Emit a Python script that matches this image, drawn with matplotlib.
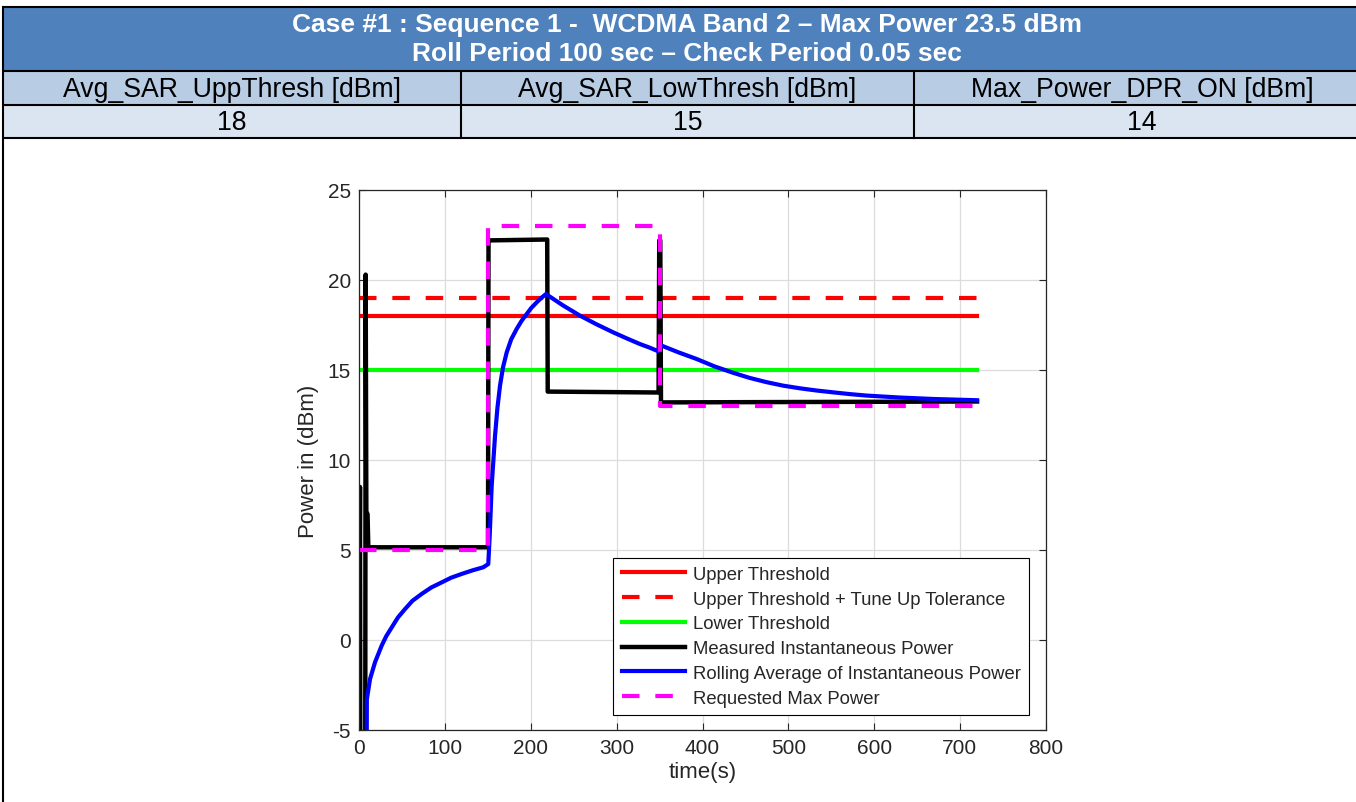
import matplotlib
matplotlib.use("Agg")
import matplotlib.pyplot as plt
from matplotlib.patches import Rectangle

plt.rcParams['font.family'] = ['Liberation Sans', 'DejaVu Sans']
plt.rcParams['axes.unicode_minus'] = False

# --- table contents ---
TITLE_LINES = ["Case #1 : Sequence 1 -  WCDMA Band 2 \u2013 Max Power 23.5 dBm",
               "Roll Period 100 sec \u2013 Check Period 0.05 sec"]
PARAM_NAMES = ["Avg_SAR_UppThresh [dBm]", "Avg_SAR_LowThresh [dBm]", "Max_Power_DPR_ON [dBm]"]
PARAM_VALUES = ["18", "15", "14"]

# --- chart data ---
T_END = 720
UPPER_THRESH = 18
UPPER_TOL = 19
LOWER_THRESH = 15

meas_t = [0, 0.4, 0.8, 1.2, 1.6, 6.9, 7.4, 8.2, 9.6, 10.5, 150.0, 150.6, 219.0, 219.6,
          348.8, 349.6, 350.8, 351.6, 720]
meas_p = [5.5, 3.9, 8.5, -9.0, -9.0, -9.0, 20.3, 7.1, 7.0, 5.15, 5.15, 22.2, 22.25, 13.8,
          13.75, 22.2, 22.2, 13.2, 13.25]

avg_t = [8.5, 8.8, 12.5, 18.3, 26.1, 31.5, 37.8, 45.0, 53.3, 62.0, 72.7, 84.0, 96.0,
         107.0, 119.3, 132.0, 144.5, 150.3,
         152.0, 154.3, 158.2, 161.0, 164.0, 167.5, 171.8, 177.0, 183.4, 189.0, 195.1,
         200.5, 206.8, 212.0, 217.6,
         237.0, 257.2, 276.0, 296.0, 312.0, 327.2, 338.0, 348.0, 350.5, 372.0, 393.2,
         414.0, 436.0, 455.0, 475.0, 494.0, 514.0, 533.0, 552.0, 572.0,
         591.0, 630.0, 669.0, 720]
avg_p = [-8.0, -3.3, -2.17, -1.24, -0.31, 0.22, 0.70, 1.25, 1.72, 2.18, 2.56, 2.92, 3.20,
         3.46, 3.67, 3.87, 4.04, 4.22,
         5.8, 8.57, 11.35, 12.9, 14.13, 15.15, 15.98, 16.70, 17.28, 17.72, 18.11,
         18.45, 18.76, 19.00, 19.22,
         18.60, 18.02, 17.55, 17.09, 16.75, 16.44, 16.25, 16.05, 16.39, 15.98, 15.61,
         15.20, 14.84, 14.56, 14.32, 14.13, 13.98, 13.86, 13.76, 13.66,
         13.58, 13.47, 13.39, 13.32]

req_t = [0, 150, 150, 351, 351, 720]
req_p = [5, 5, 23, 23, 13, 13]

XTICKS = [0, 100, 200, 300, 400, 500, 600, 700, 800]
YTICKS = [-5, 0, 5, 10, 15, 20, 25]

W, H = 1356, 803
fig = plt.figure(figsize=(W / 100, H / 100), dpi=100)

# table drawn in pixel coordinates on a full-figure axes
bg = fig.add_axes([0, 0, 1, 1])
bg.set_xlim(0, W)
bg.set_ylim(H, 0)
bg.axis('off')

tbl_left, tbl_right = 3, 1370
row_y = [8, 72, 106, 139]
col_x = [tbl_left, 461, 914, tbl_right]
bg.add_patch(Rectangle((tbl_left, row_y[0]), tbl_right - tbl_left, row_y[1] - row_y[0],
                       facecolor='#4F81BD', edgecolor='none'))
bg.add_patch(Rectangle((tbl_left, row_y[1]), tbl_right - tbl_left, row_y[2] - row_y[1],
                       facecolor='#B8CCE4', edgecolor='none'))
bg.add_patch(Rectangle((tbl_left, row_y[2]), tbl_right - tbl_left, row_y[3] - row_y[2],
                       facecolor='#DBE5F1', edgecolor='none'))
for y in row_y:
    bg.plot([tbl_left, tbl_right], [y, y], color='black', lw=1.5, solid_capstyle='butt')
bg.plot([tbl_left, tbl_left], [row_y[0], H], color='black', lw=1.5)
for x in col_x[1:3]:
    bg.plot([x, x], [row_y[1], row_y[3]], color='black', lw=1.5)

center_x = (tbl_left + tbl_right) / 2
bg.text(center_x, 25, TITLE_LINES[0], color='white', fontsize=19, fontweight='bold',
        ha='center', va='center')
bg.text(center_x, 54, TITLE_LINES[1], color='white', fontsize=19, fontweight='bold',
        ha='center', va='center')
for i in range(3):
    cx = (col_x[i] + col_x[i + 1]) / 2
    bg.text(cx, 90, PARAM_NAMES[i], fontsize=19.2, ha='center', va='center', color='black')
    bg.text(cx, 123, PARAM_VALUES[i], fontsize=19.2, ha='center', va='center', color='black')

# --- chart ---
ax = fig.add_axes([359.3 / W, (H - 731) / H, 686.4 / W, 540 / H])
dash = (0, (4.2, 3.8))
ax.plot([0, T_END], [UPPER_THRESH, UPPER_THRESH], color='#FF0000', lw=3, label='Upper Threshold')
ax.plot([0, T_END], [UPPER_TOL, UPPER_TOL], color='#FF0000', lw=3, linestyle=dash,
        label='Upper Threshold + Tune Up Tolerance')
ax.plot([0, T_END], [LOWER_THRESH, LOWER_THRESH], color='#00FF00', lw=3, label='Lower Threshold')
ax.plot(meas_t, meas_p, color='black', lw=3.2, label='Measured Instantaneous Power')
ax.plot(avg_t, avg_p, color='#0000FF', lw=3, label='Rolling Average of Instantaneous Power')
ax.plot(req_t, req_p, color='#FF00FF', lw=3, linestyle=dash, label='Requested Max Power')

ax.set_xlim(0, 800)
ax.set_ylim(-5, 25)
ax.set_xticks(XTICKS)
ax.set_yticks(YTICKS)
ax.tick_params(direction='in', top=True, right=True, labelsize=15, colors='#262626',
               length=5, width=0.8, pad=6)
for s in ax.spines.values():
    s.set_color('#262626')
    s.set_linewidth(0.9)
ax.grid(True, color='#dcdcdc', lw=0.9)
ax.set_axisbelow(True)
ax.set_xlabel('time(s)', fontsize=16, color='#262626', labelpad=3)
ax.set_ylabel('Power in (dBm)', fontsize=16, color='#262626', labelpad=6)

leg = ax.legend(loc='lower right', bbox_to_anchor=(1 - 16.7 / 686.4, 15 / 540),
                borderaxespad=0, fontsize=13.3, frameon=True, fancybox=False,
                framealpha=1, edgecolor='black', handlelength=3.4, handletextpad=0.45,
                labelspacing=0.42, borderpad=0.45)
leg.get_frame().set_linewidth(0.8)
for txt in leg.get_texts():
    txt.set_color('#262626')

fig.savefig('out.png', dpi=100)
